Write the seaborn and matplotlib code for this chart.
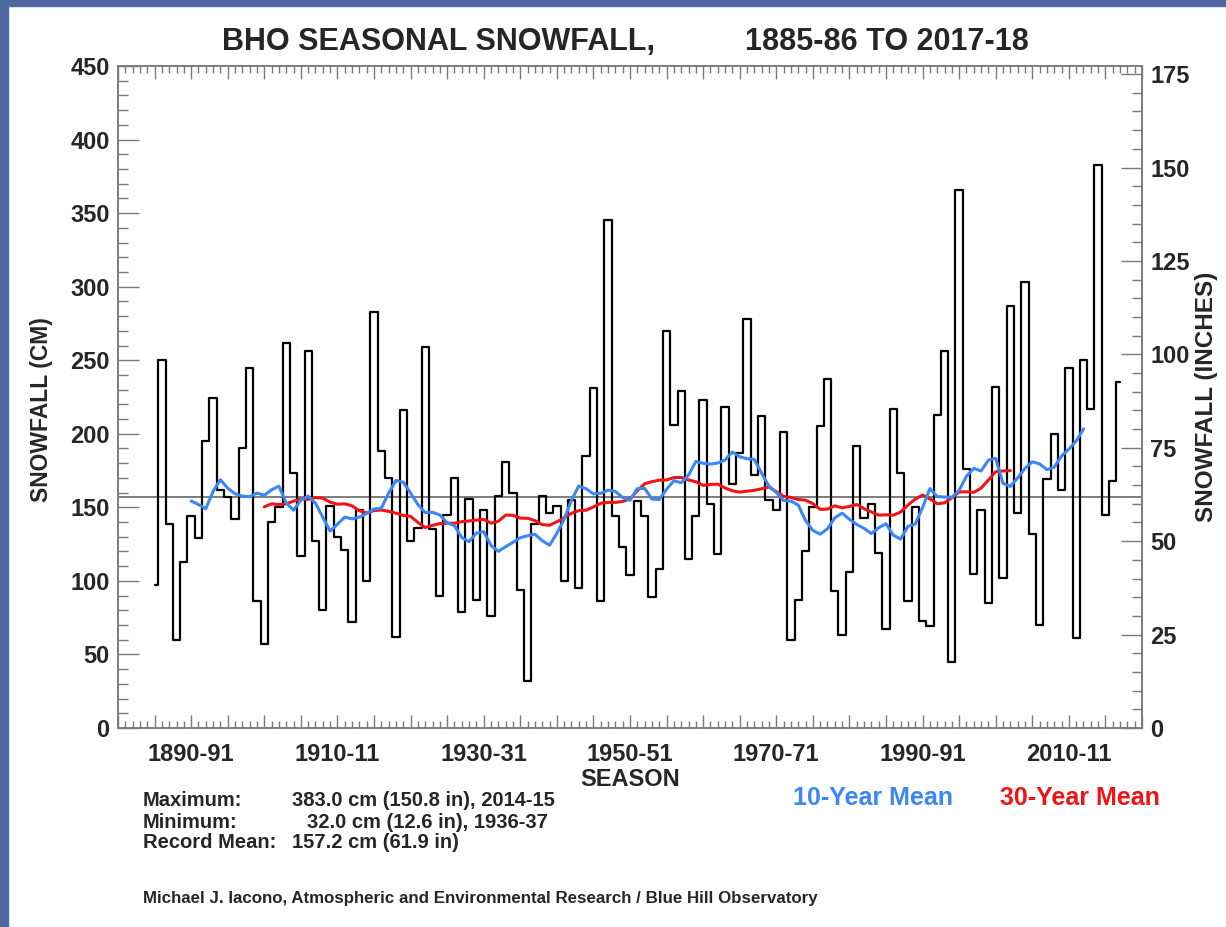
import numpy as np
import pandas as pd
import matplotlib
matplotlib.use("Agg")
import matplotlib.pyplot as plt
from matplotlib.patches import Rectangle
from matplotlib.ticker import MultipleLocator
import seaborn as sns

# Seasonal snowfall (cm), one value per season starting with 1885-86
first_season = 1885
snowfall_cm = [
    97, 250, 139, 60, 113, 144, 129, 195, 224, 162,          # 1885-1894
    157, 142, 190, 245, 86, 57, 140, 150, 262, 173,          # 1895-1904
    117, 256, 127, 80, 151, 130, 121, 72, 148, 100,          # 1905-1914
    283, 188, 170, 62, 216, 127, 136, 259, 135, 90,          # 1915-1924
    145, 170, 79, 156, 87, 148, 76, 158, 181, 160,           # 1925-1934
    94, 32.0, 139, 158, 146, 151, 100, 155, 95, 185,         # 1935-1944
    231, 86, 345, 144, 123, 104, 154, 144, 89, 108,          # 1945-1954
    270, 206, 229, 115, 144, 223, 152, 118, 218, 166,        # 1955-1964
    187, 278, 172, 212, 155, 148, 201, 60, 87, 120,          # 1965-1974
    150, 205, 237, 93, 63, 106, 192, 143, 152, 119,          # 1975-1984
    67, 217, 173, 86, 150, 73, 69, 213, 256, 45,             # 1985-1994
    366, 176, 105, 148, 85, 232, 102, 287, 146, 303,         # 1995-2004
    132, 70, 169, 200, 162, 245, 61, 250, 217, 383.0,        # 2005-2014
    145, 168, 235,                                           # 2015-2017
]
tick_seasons = [1890, 1910, 1930, 1950, 1970, 1990, 2010]
tick_labels = ["1890-91", "1910-11", "1930-31", "1950-51", "1970-71", "1990-91", "2010-11"]
record_mean_cm = 157.2
stat_names = ["Maximum:", "Minimum:", "Record Mean:"]
stat_values = ["383.0 cm (150.8 in), 2014-15", "32.0 cm (12.6 in), 1936-37", "157.2 cm (61.9 in)"]

seasons = np.arange(first_season, first_season + len(snowfall_cm))
df = pd.DataFrame({"season": seasons, "snow": snowfall_cm})


def centred_mean(values, years):
    """Centred N-year running mean (2xN moving average: half weight at both ends)."""
    w = np.ones(years + 1)
    w[0] = w[-1] = 0.5
    w /= years
    out = np.full(len(values), np.nan)
    half = years // 2
    out[half:len(values) - half] = np.convolve(values, w, mode="valid")
    return out


snow = np.asarray(snowfall_cm, dtype=float)
df["mean10"] = centred_mean(snow, 10)
df["mean30"] = centred_mean(snow, 30)

W, H = 1226, 927
sns.set_theme(style="white")
plt.rcParams["font.family"] = ["Liberation Sans", "DejaVu Sans"]
plt.rcParams["font.weight"] = "bold"

fig = plt.figure(figsize=(W / 100, H / 100), dpi=100, facecolor="white")


def px(x, y):
    return x / W, 1 - y / H


# slide frame along the top and left edges
frame = "#4e67a1"
fig.patches.append(Rectangle((0, 1 - 6 / H), 1, 6 / H, transform=fig.transFigure, color=frame, zorder=0))
fig.patches.append(Rectangle((0, 0), 8 / W, 1, transform=fig.transFigure, color=frame, zorder=0))

left, right, top, bottom = 118, 1142, 66, 728
ax = fig.add_axes([left / W, 1 - bottom / H, (right - left) / W, (bottom - top) / H])
ax.set_facecolor("white")

spine_col = "#7a7a7a"
ax.axhline(record_mean_cm, color="#5a5a5a", lw=1.1, zorder=1)
sns.lineplot(data=df, x="season", y="snow", ax=ax, color="black", lw=1.6,
             drawstyle="steps-mid", estimator=None, zorder=2)
sns.lineplot(data=df.dropna(subset=["mean30"]), x="season", y="mean30", ax=ax,
             color="#f01414", lw=2.2, estimator=None, zorder=3)
sns.lineplot(data=df.dropna(subset=["mean10"]), x="season", y="mean10", ax=ax,
             color="#3a87f5", lw=2.2, estimator=None, zorder=4)

ax.set_xlim(1880, 2020)
ax.set_ylim(0, 450)
ax.set_xlabel("")
ax.set_ylabel("")

# bottom / top axis: major every 5 seasons, minor every season
major_x = np.arange(1880, 2021, 5)
ax.set_xticks(major_x)
ax.set_xticklabels([tick_labels[tick_seasons.index(s)] if s in tick_seasons else "" for s in major_x])
ax.xaxis.set_minor_locator(MultipleLocator(1))
ax.yaxis.set_major_locator(MultipleLocator(50))
ax.yaxis.set_minor_locator(MultipleLocator(10))
ax.tick_params(axis="x", which="major", direction="in", length=9.5, width=1, color=spine_col,
               top=True, bottom=True, labelsize=17, pad=11)
ax.tick_params(axis="x", which="minor", direction="in", length=4.7, width=1, color=spine_col,
               top=True, bottom=True)
ax.tick_params(axis="y", which="major", direction="in", length=15, width=1, color=spine_col,
               left=True, right=False, labelsize=17, pad=6)
ax.tick_params(axis="y", which="minor", direction="in", length=7.5, width=1, color=spine_col,
               left=True, right=False)
for lab in ax.get_xticklabels() + ax.get_yticklabels():
    lab.set_fontweight("bold")
for sp in ax.spines.values():
    sp.set_color(spine_col)
    sp.set_linewidth(1.1)
    sp.set_visible(True)

# inches on the right-hand axis
ax2 = ax.twinx()
ax2.set_ylim(0, 450 / 2.54)
ax2.yaxis.set_major_locator(MultipleLocator(25))
ax2.yaxis.set_minor_locator(MultipleLocator(5))
ax2.tick_params(axis="y", which="major", direction="in", length=15, width=1, color=spine_col,
                labelsize=17, pad=6)
ax2.tick_params(axis="y", which="minor", direction="in", length=7.5, width=1, color=spine_col)
for lab in ax2.get_yticklabels():
    lab.set_fontweight("bold")
for sp in ax2.spines.values():
    sp.set_color(spine_col)
    sp.set_linewidth(1.1)
ax2.grid(False)
ax.grid(False)

# titles and axis names
fig.text(*px(222, 42), "BHO SEASONAL SNOWFALL,", fontsize=22, fontweight="bold", va="center", ha="left")
fig.text(*px(745, 42), "1885-86 TO 2017-18", fontsize=22, fontweight="bold", va="center", ha="left")
fig.text(*px(42, 410), "SNOWFALL (CM)", fontsize=16.5, fontweight="bold", rotation=90, va="center", ha="center")
fig.text(*px(1207, 397), "SNOWFALL (INCHES)", fontsize=17.5, fontweight="bold", rotation=90, va="center", ha="center")
fig.text(*px(630, 780), "SEASON", fontsize=17, fontweight="bold", va="center", ha="center")

# summary statistics
for i, (name, val) in enumerate(zip(stat_names, stat_values)):
    y = 801 + 21 * i
    fig.text(*px(143, y), name, fontsize=14.5, fontweight="bold", va="center", ha="left")
    xv = 307 if i == 1 else 292
    fig.text(*px(xv, y), val, fontsize=14.5, fontweight="bold", va="center", ha="left")

fig.text(*px(793, 798), "10-Year Mean", fontsize=18, fontweight="bold", color="#3a87f5", va="center", ha="left")
fig.text(*px(1000, 798), "30-Year Mean", fontsize=18, fontweight="bold", color="#f01414", va="center", ha="left")

fig.text(*px(143, 898), "Michael J. Iacono, Atmospheric and Environmental Research / Blue Hill Observatory",
         fontsize=12.2, fontweight="bold", va="center", ha="left")

fig.savefig("out.png", dpi=100, facecolor="white")
